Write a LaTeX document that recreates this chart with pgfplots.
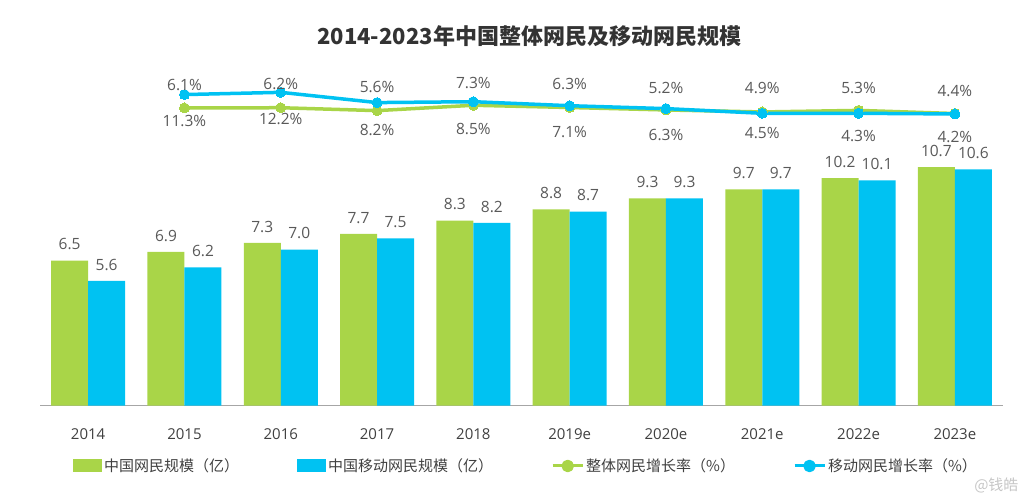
\documentclass[border=0pt]{standalone}
\usepackage{pgfplots}
\pgfplotsset{compat=1.18}
\usepackage{fontspec}
\setmainfont{Open Sans}
\newfontfamily\cjk{Noto Sans CJK SC}
\definecolor{cgreen}{HTML}{A9D548}
\definecolor{cblue}{HTML}{00C2F2}
\definecolor{ctext}{HTML}{595959}
\definecolor{ctick}{HTML}{404040}
\definecolor{ctitle}{HTML}{333333}
\definecolor{caxis}{HTML}{A6A6A6}

\begin{document}
\begin{tikzpicture}[x=1pt,y=1pt]
\useasboundingbox (0,0) rectangle (1024,497);
\begin{axis}[
  at={(40pt,91.3pt)}, anchor=south west,
  scale only axis, width=963pt, height=345.7pt,
  xmin=-0.5, xmax=9.5, ymin=0, ymax=15.5,
  axis x line=bottom, axis y line=none,
  x axis line style={-, draw=caxis, line width=1.2pt},
  xtick={0,...,9},
  xticklabels={2014,2015,2016,2017,2018,2019e,2020e,2021e,2022e,2023e},
  major tick length=0pt,
  xticklabel style={font=\fontsize{15}{18}\selectfont, text=ctick, yshift=-19pt},
  ytick=\empty,
  clip=false,
  title={\cjk\bfseries 2014-2023年中国整体网民及移动网民规模},
  title style={at={(0.508,1.052)}, anchor=center, font=\fontsize{22}{26}\selectfont, text=ctitle},
  legend columns=4,
  legend style={at={(0.0343,-0.1744)}, anchor=west, draw=none, fill=none, inner sep=0pt,
    font={\cjk\fontsize{15}{18}\selectfont}, text=ctick, nodes={inner sep=2pt},
    /tikz/every even column/.append style={column sep=56pt}},
]
% bars: 中国网民规模（亿）
\addplot[ybar, fill=cgreen, draw=none, bar width=37pt, bar shift=-18.5pt,
  nodes near coords={\pgfmathprintnumber[fixed,fixed zerofill,precision=1,assume math mode=true]{\pgfplotspointmeta}},
  nodes near coords style={anchor=south, xshift=-18.5pt, yshift=7pt, font=\fontsize{15.5}{18}\selectfont, text=ctext},
  legend image code/.code={\fill[cgreen] (0pt,-6.5pt) rectangle (29pt,6.5pt);}]
  coordinates {(0,6.5) (1,6.9) (2,7.3) (3,7.7) (4,8.3) (5,8.8) (6,9.3) (7,9.7) (8,10.2) (9,10.7)};
\addlegendentry{中国网民规模（亿）}
% bars: 中国移动网民规模（亿）
\addplot[ybar, fill=cblue, draw=none, bar width=37pt, bar shift=18.5pt,
  nodes near coords={\pgfmathprintnumber[fixed,fixed zerofill,precision=1,assume math mode=true]{\pgfplotspointmeta}},
  nodes near coords style={anchor=south, xshift=18.5pt, yshift=7pt, font=\fontsize{15.5}{18}\selectfont, text=ctext},
  legend image code/.code={\fill[cblue] (0pt,-6.5pt) rectangle (29pt,6.5pt);}]
  coordinates {(0,5.6) (1,6.2) (2,7.0) (3,7.5) (4,8.2) (5,8.7) (6,9.3) (7,9.7) (8,10.1) (9,10.6)};
\addlegendentry{中国移动网民规模（亿）}
% line: 整体网民增长率 (plotted at its drawn height; labels carry the values)
\addplot[cgreen, line width=3.5pt, line join=round, mark=*, mark size=5pt,
  mark options={fill=cgreen, draw=cgreen, line width=0pt},
  legend image code/.code={\draw[cgreen, line width=3pt] (0pt,0pt) -- (30pt,0pt); \fill[cgreen] (15pt,0pt) circle (4.5pt);}]
  coordinates {(1,13.35) (2,13.36) (3,13.23) (4,13.47) (5,13.37) (6,13.26) (7,13.17) (8,13.24) (9,13.10)};
\addlegendentry{整体网民增长率（\%）}
% line: 移动网民增长率
\addplot[cblue, line width=3.5pt, line join=round, mark=*, mark size=5pt,
  mark options={fill=cblue, draw=cblue, line width=0pt},
  legend image code/.code={\draw[cblue, line width=3pt] (0pt,0pt) -- (30pt,0pt); \fill[cblue] (15pt,0pt) circle (4.5pt);}]
  coordinates {(1,13.95) (2,14.05) (3,13.59) (4,13.63) (5,13.45) (6,13.32) (7,13.11) (8,13.11) (9,13.08)};
\addlegendentry{移动网民增长率（\%）}
% labels of growth rates
\addplot[draw=none, mark=none, forget plot, point meta=explicit symbolic,
  nodes near coords={\pgfplotspointmeta\%},
  nodes near coords style={anchor=center, font=\fontsize{15.5}{18}\selectfont, text=ctext}]
  table[meta=lab] {
x y lab
1 14.38 6.1
2 14.43 6.2
3 14.30 5.6
4 14.48 7.3
5 14.41 6.3
6 14.23 5.2
7 14.23 4.9
8 14.26 5.3
9 14.11 4.4
};
\addplot[draw=none, mark=none, forget plot, point meta=explicit symbolic,
  nodes near coords={\pgfplotspointmeta\%},
  nodes near coords style={anchor=center, font=\fontsize{15.5}{18}\selectfont, text=ctext}]
  table[meta=lab] {
x y lab
1 12.77 11.3
2 12.86 12.2
3 12.36 8.2
4 12.41 8.5
5 12.29 7.1
6 12.14 6.3
7 12.24 4.5
8 12.09 4.3
9 12.06 4.2
};
\end{axis}
\node[text=gray!45, font={\cjk\fontsize{15}{18}\selectfont}, anchor=east] at (1022,12) {@钱皓};
\end{tikzpicture}
\end{document}
